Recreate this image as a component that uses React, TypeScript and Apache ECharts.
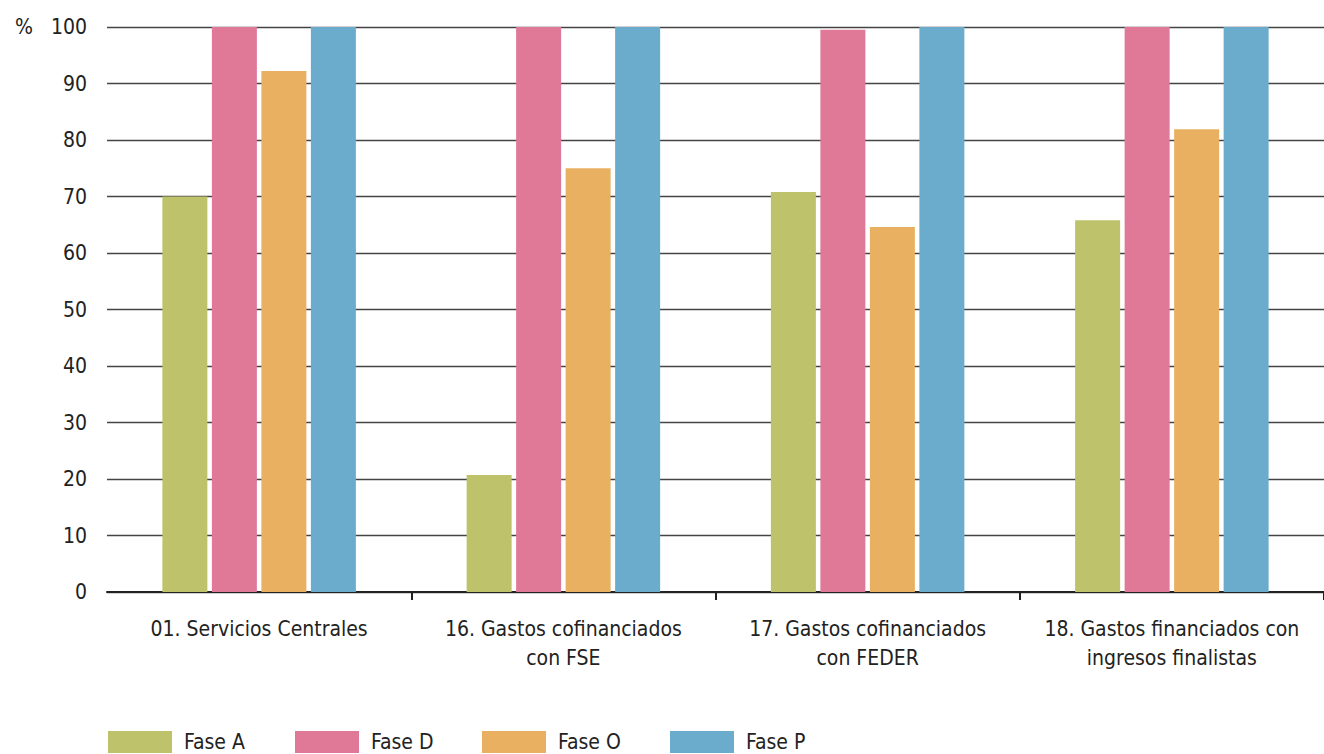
import React, { useEffect, useRef } from "react";
import * as echarts from "echarts";

const categories = [
  "01. Servicios Centrales",
  "16. Gastos cofinanciados\ncon FSE",
  "17. Gastos cofinanciados\ncon FEDER",
  "18. Gastos financiados con\ningresos finalistas",
];
const faseA = [70, 20.7, 70.8, 65.8];
const faseD = [100, 100, 99.5, 100];
const faseO = [92.2, 75.0, 64.6, 81.9];
const faseP = [100, 100, 100, 100];
const seriesNames = ["Fase A", "Fase D", "Fase O", "Fase P"];
const colors = ["#BEC26B", "#E07898", "#E9B062", "#6BACCD"];
const legendLefts = [108, 295, 482, 670];

const FONT = "'DejaVu Sans Condensed', 'Liberation Sans Narrow', sans-serif";

export default function App() {
  const ref = useRef<HTMLDivElement>(null);
  useEffect(() => {
    document.body.style.margin = "0";
    const chart = echarts.init(ref.current!, null, { renderer: "svg" });
    const data = [faseA, faseD, faseO, faseP];
    chart.setOption({
      animation: false,
      textStyle: { fontFamily: FONT },
      grid: { left: 107, right: 0, top: 27, bottom: 162, containLabel: false },
      legend: seriesNames.map((n, i) => ({
        left: legendLefts[i],
        top: 731,
        padding: 0,
        itemWidth: 64,
        itemHeight: 22,
        icon: "rect",
        textStyle: { fontSize: 21, color: "#222", padding: [0, 0, 0, 7], fontFamily: FONT },
        data: [n],
      })),
      xAxis: {
        type: "category",
        data: categories,
        axisLine: { lineStyle: { color: "#222", width: 2 } },
        axisTick: {
          show: true,
          length: 8,
          interval: (idx: number) => idx > 0 && idx < categories.length,
          lineStyle: { color: "#222", width: 2 },
        },
        axisLabel: { interval: 0, fontSize: 21, color: "#222", margin: 22, lineHeight: 29, fontFamily: FONT },
      },
      yAxis: {
        type: "value",
        min: 0,
        max: 100,
        interval: 10,
        name: "%",
        nameLocation: "end",
        nameGap: 0,
        nameTextStyle: { fontSize: 21, color: "#222", align: "left", verticalAlign: "middle", padding: [0, 0, 0, -92], fontFamily: FONT },
        axisLine: { show: false },
        axisTick: { show: false },
        axisLabel: { fontSize: 21, color: "#222", margin: 20, fontFamily: FONT },
        splitLine: { lineStyle: { color: "#444", width: 1.3 } },
      },
      series: data.map((d, i) => ({
        name: seriesNames[i],
        type: "bar",
        data: d,
        barWidth: 45,
        barGap: "10%",
        itemStyle: { color: colors[i] },
      })),
    });
    return () => chart.dispose();
  }, []);
  return <div ref={ref} style={{ width: 1324, height: 754, position: "absolute", left: 0, top: 0 }} />;
}
